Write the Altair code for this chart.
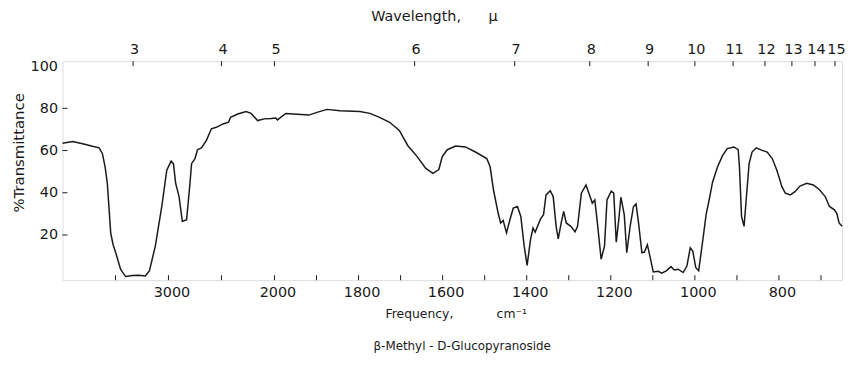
import altair as alt
import pandas as pd

# IR spectrum of beta-methyl-D-glucopyranoside
wavenumber = [4000, 3904, 3800, 3717, 3654, 3623, 3598, 3577, 3545, 3523, 3498, 3452, 3405, 3340,
              3280, 3218, 3180, 3124, 3063, 3016, 2975, 2953, 2932, 2900, 2869, 2829, 2797, 2782,
              2750, 2726, 2689, 2642, 2595, 2549, 2486, 2433, 2414, 2346, 2268, 2221, 2159, 2096,
              2030, 1997, 1993, 1973, 1918, 1899, 1875, 1844, 1797, 1773, 1750, 1726, 1703, 1683,
              1660, 1640, 1623, 1609, 1601, 1589, 1569, 1546, 1522, 1495, 1487, 1479, 1468, 1462,
              1456, 1448, 1440, 1432, 1422, 1414, 1406, 1399, 1391, 1385, 1380, 1367, 1360, 1354,
              1344, 1337, 1330, 1325, 1318, 1312, 1306, 1295, 1285, 1279, 1270, 1259, 1252, 1244,
              1238, 1231, 1223, 1215, 1209, 1199, 1193, 1187, 1181, 1176, 1168, 1162, 1154, 1146,
              1140, 1134, 1126, 1120, 1113, 1107, 1099, 1087, 1079, 1068, 1057, 1049, 1040, 1028,
              1019, 1011, 1005, 998, 991, 981, 973, 966, 958, 946, 934, 923, 907, 897, 894, 889,
              883, 878, 871, 864, 854, 840, 828, 816, 805, 793, 785, 773, 762, 750, 734, 718, 703,
              690, 680, 668, 662, 657, 650]
transmittance = [63.5, 64.3, 63.1, 62.0, 61.3, 58.5, 52.3, 44.5, 21.0, 15.5, 11.7, 3.8, 0.3, 0.8,
                 0.9, 0.6, 3.0, 14.7, 33.5, 50.7, 55.0, 53.8, 44.4, 38.2, 26.4, 27.2, 44.5, 53.8,
                 56.2, 60.4, 61.3, 64.8, 70.3, 71.0, 72.6, 73.4, 75.7, 77.3, 78.5, 77.6, 74.2, 75.0,
                 75.2, 75.4, 74.5, 77.6, 76.8, 78.1, 79.5, 78.9, 78.5, 77.6, 75.7, 73.4, 69.5, 62.4,
                 57.0, 51.5, 49.2, 51.0, 57.0, 60.4, 62.1, 61.7, 59.3, 56.2, 52.3, 41.3, 30.4, 25.7,
                 26.9, 21.0, 27.2, 32.7, 33.5, 28.8, 14.7, 5.6, 17.8, 23.3, 21.3, 27.6, 29.6, 39.0,
                 41.0, 38.2, 24.1, 18.2, 25.7, 31.2, 25.7, 24.1, 21.5, 24.1, 39.8, 43.7, 39.8, 35.1,
                 36.6, 24.1, 8.5, 14.7, 36.6, 40.8, 39.8, 16.6, 27.2, 37.9, 29.6, 11.6, 24.1, 33.5,
                 34.7, 25.7, 11.6, 11.9, 15.4, 10.0, 2.5, 2.8, 1.9, 3.0, 5.0, 3.4, 3.8, 2.2,
                 5.3, 13.9, 12.4, 4.6, 3.0, 17.8, 30.0, 36.6, 45.0, 52.3, 57.7, 60.9, 61.7, 60.4, 52.3, 28.8,
                 24.1, 36.6, 53.8, 59.3, 61.3, 60.1, 59.3, 56.2, 50.7, 42.9, 39.8, 39.0, 40.5, 43.2, 44.5, 43.7, 41.3,
                 38.2, 33.5, 31.9, 30.0, 25.7, 24.1]

freq_labels = [3000, 2000, 1800, 1600, 1400, 1200, 1000, 800]
freq_ticks = [3500, 3000, 2500, 2000, 1900, 1800, 1700, 1600, 1500, 1400, 1300, 1200, 1100,
              1000, 900, 800, 700]
wavelength_microns = [3, 4, 5, 6, 7, 8, 9, 10, 11, 12, 13, 14, 15]
pct_labels = [20, 40, 60, 80, 100]
pct_ticks = [20, 40, 60, 80]

spec = pd.DataFrame({"nu": wavenumber, "T": transmittance, "idx": range(len(wavenumber))})
bt = pd.DataFrame({"nu": freq_ticks})
top = pd.DataFrame({"nu": [10000.0 / m for m in wavelength_microns]})
lt = pd.DataFrame({"T": pct_ticks})

W, H = 787, 221
FONT = "DejaVu Sans"
INK = "#1a1a1a"
NB = "\u00a0"

xscale = alt.Scale(domain=[4000, 2000, 650], range=[0, 214, W], zero=False, nice=False)
yscale = alt.Scale(domain=[-1.4, 102.3], zero=False, nice=False)

yaxis = alt.Axis(values=pct_labels, ticks=False, domain=False, grid=False,
                 labelPadding=5, labelFontSize=14.5, labelFont=FONT, labelColor=INK,
                 title="%Transmittance", titleFont=FONT, titleFontSize=15,
                 titleFontWeight="normal", titleColor=INK, titleX=-44, titleY=92,
                 titleBaseline="middle", titleAngle=-90, titleAlign="center")

line = alt.Chart(spec).mark_line(color=INK, strokeWidth=1.5).encode(
    x=alt.X("nu:Q", scale=xscale,
            axis=alt.Axis(orient="bottom", values=freq_labels, ticks=False, domain=False, grid=False,
                          labelPadding=5, labelOffset=3, labelFontSize=14.5, labelFont=FONT,
                          labelColor=INK, format="d",
                          title="Frequency," + NB * 11 + "cm\u207b\u00b9", titleFont=FONT,
                          titleFontSize=12.5, titleFontWeight="normal", titleColor=INK,
                          titleX=397, titleY=34, titleBaseline="middle", titleAlign="center")),
    y=alt.Y("T:Q", scale=yscale, axis=yaxis),
    order="idx:Q",
)

top_ticks = alt.Chart(top).mark_rule(color=INK, strokeWidth=1).encode(
    x=alt.X("nu:Q", scale=xscale,
            axis=alt.Axis(orient="top", values=[10000.0 / m for m in wavelength_microns],
                          labelExpr="round(10000 / datum.value)", ticks=False, domain=False,
                          grid=False, labelPadding=5, labelOffset=1, labelFontSize=14.5,
                          labelFont=FONT, labelColor=INK,
                          title="Wavelength," + NB * 6 + "\u03bc", titleFont=FONT,
                          titleFontSize=14.5, titleFontWeight="normal", titleColor=INK,
                          titleX=375, titleY=-45, titleBaseline="middle", titleAlign="center")),
    y=alt.value(0), y2=alt.value(5),
)

bottom_ticks = alt.Chart(bt).mark_rule(color=INK, strokeWidth=1).encode(
    x=alt.X("nu:Q", scale=xscale, axis=None),
    y=alt.value(H), y2=alt.value(H - 5),
)

left_ticks = alt.Chart(lt).mark_rule(color=INK, strokeWidth=1).encode(
    y=alt.Y("T:Q", scale=yscale, axis=yaxis),
    x=alt.value(0), x2=alt.value(5),
)

chart = alt.layer(line, top_ticks, bottom_ticks, left_ticks).resolve_axis(x="independent").properties(
    width=W, height=H,
    autosize=alt.AutoSizeParams(type="none"),
    padding={"left": 55, "top": 52, "right": 3, "bottom": 95},
    title=alt.TitleParams("\u03b2-Methyl - D-Glucopyranoside", orient="bottom", anchor="middle",
                          font=FONT, fontSize=12, fontWeight="normal", color=INK, offset=21, dx=10),
).configure_view(stroke=INK, strokeWidth=1.6).configure(background="white")

chart.save("out.html", embed_options={"renderer": "svg", "actions": False})
